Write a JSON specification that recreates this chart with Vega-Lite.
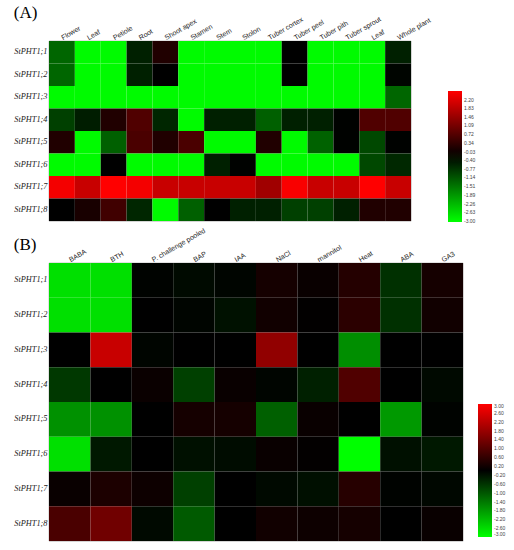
{
  "$schema": "https://vega.github.io/schema/vega-lite/v6.json",
  "padding": {"left": 13, "top": 3, "right": 0, "bottom": 0},
  "background": "white",
  "config": {
    "view": {"stroke": "#888", "strokeWidth": 0.6},
    "axis": {"domain": false, "ticks": false, "title": null, "labelColor": "#222"},
    "font": "Liberation Sans"
  },
  "resolve": {"scale": {"color": "independent"}},
  "spacing": 0,
  "datasets": {
    "tissue": [
      {"g": "StPHT1;1", "t": "Flower", "v": -1.34}, {"g": "StPHT1;1", "t": "Leaf", "v": -3}, {"g": "StPHT1;1", "t": "Petiole", "v": -3}, {"g": "StPHT1;1", "t": "Root", "v": -0.56}, {"g": "StPHT1;1", "t": "Shoot apex", "v": 0.15}, {"g": "StPHT1;1", "t": "Stamen", "v": -3}, {"g": "StPHT1;1", "t": "Stem", "v": -3}, {"g": "StPHT1;1", "t": "Stolon", "v": -3}, {"g": "StPHT1;1", "t": "Tuber cortex", "v": -3}, {"g": "StPHT1;1", "t": "Tuber peel", "v": -0.2}, {"g": "StPHT1;1", "t": "Tuber pith", "v": -3}, {"g": "StPHT1;1", "t": "Tuber sprout", "v": -3}, {"g": "StPHT1;1", "t": "Leaf ", "v": -3}, {"g": "StPHT1;1", "t": "Whole plant", "v": -0.56},
      {"g": "StPHT1;2", "t": "Flower", "v": -1.34}, {"g": "StPHT1;2", "t": "Leaf", "v": -3}, {"g": "StPHT1;2", "t": "Petiole", "v": -3}, {"g": "StPHT1;2", "t": "Root", "v": -0.56}, {"g": "StPHT1;2", "t": "Shoot apex", "v": -0.2}, {"g": "StPHT1;2", "t": "Stamen", "v": -3}, {"g": "StPHT1;2", "t": "Stem", "v": -3}, {"g": "StPHT1;2", "t": "Stolon", "v": -3}, {"g": "StPHT1;2", "t": "Tuber cortex", "v": -3}, {"g": "StPHT1;2", "t": "Tuber peel", "v": -0.2}, {"g": "StPHT1;2", "t": "Tuber pith", "v": -3}, {"g": "StPHT1;2", "t": "Tuber sprout", "v": -3}, {"g": "StPHT1;2", "t": "Leaf ", "v": -3}, {"g": "StPHT1;2", "t": "Whole plant", "v": -0.26},
      {"g": "StPHT1;3", "t": "Flower", "v": -3}, {"g": "StPHT1;3", "t": "Leaf", "v": -3}, {"g": "StPHT1;3", "t": "Petiole", "v": -3}, {"g": "StPHT1;3", "t": "Root", "v": -3}, {"g": "StPHT1;3", "t": "Shoot apex", "v": -3}, {"g": "StPHT1;3", "t": "Stamen", "v": -3}, {"g": "StPHT1;3", "t": "Stem", "v": -3}, {"g": "StPHT1;3", "t": "Stolon", "v": -3}, {"g": "StPHT1;3", "t": "Tuber cortex", "v": -3}, {"g": "StPHT1;3", "t": "Tuber peel", "v": -3}, {"g": "StPHT1;3", "t": "Tuber pith", "v": -3}, {"g": "StPHT1;3", "t": "Tuber sprout", "v": -3}, {"g": "StPHT1;3", "t": "Leaf ", "v": -3}, {"g": "StPHT1;3", "t": "Whole plant", "v": -1.34},
      {"g": "StPHT1;4", "t": "Flower", "v": -0.92}, {"g": "StPHT1;4", "t": "Leaf", "v": -0.52}, {"g": "StPHT1;4", "t": "Petiole", "v": 0.15}, {"g": "StPHT1;4", "t": "Root", "v": 0.67}, {"g": "StPHT1;4", "t": "Shoot apex", "v": -0.62}, {"g": "StPHT1;4", "t": "Stamen", "v": -3}, {"g": "StPHT1;4", "t": "Stem", "v": -0.56}, {"g": "StPHT1;4", "t": "Stolon", "v": -0.56}, {"g": "StPHT1;4", "t": "Tuber cortex", "v": -1.27}, {"g": "StPHT1;4", "t": "Tuber peel", "v": -0.56}, {"g": "StPHT1;4", "t": "Tuber pith", "v": -0.56}, {"g": "StPHT1;4", "t": "Tuber sprout", "v": -0.22}, {"g": "StPHT1;4", "t": "Leaf ", "v": 0.67}, {"g": "StPHT1;4", "t": "Whole plant", "v": 0.67},
      {"g": "StPHT1;5", "t": "Flower", "v": 0.15}, {"g": "StPHT1;5", "t": "Leaf", "v": -3}, {"g": "StPHT1;5", "t": "Petiole", "v": -1.27}, {"g": "StPHT1;5", "t": "Root", "v": 0.6}, {"g": "StPHT1;5", "t": "Shoot apex", "v": 0.15}, {"g": "StPHT1;5", "t": "Stamen", "v": 0.6}, {"g": "StPHT1;5", "t": "Stem", "v": -3}, {"g": "StPHT1;5", "t": "Stolon", "v": -3}, {"g": "StPHT1;5", "t": "Tuber cortex", "v": 0.15}, {"g": "StPHT1;5", "t": "Tuber peel", "v": -3}, {"g": "StPHT1;5", "t": "Tuber pith", "v": -1.3}, {"g": "StPHT1;5", "t": "Tuber sprout", "v": -0.22}, {"g": "StPHT1;5", "t": "Leaf ", "v": -1.0}, {"g": "StPHT1;5", "t": "Whole plant", "v": -0.22},
      {"g": "StPHT1;6", "t": "Flower", "v": -3}, {"g": "StPHT1;6", "t": "Leaf", "v": -3}, {"g": "StPHT1;6", "t": "Petiole", "v": -0.2}, {"g": "StPHT1;6", "t": "Root", "v": -3}, {"g": "StPHT1;6", "t": "Shoot apex", "v": -3}, {"g": "StPHT1;6", "t": "Stamen", "v": -3}, {"g": "StPHT1;6", "t": "Stem", "v": -0.56}, {"g": "StPHT1;6", "t": "Stolon", "v": -0.22}, {"g": "StPHT1;6", "t": "Tuber cortex", "v": -3}, {"g": "StPHT1;6", "t": "Tuber peel", "v": -3}, {"g": "StPHT1;6", "t": "Tuber pith", "v": -3}, {"g": "StPHT1;6", "t": "Tuber sprout", "v": -3}, {"g": "StPHT1;6", "t": "Leaf ", "v": -1.0}, {"g": "StPHT1;6", "t": "Whole plant", "v": -0.65},
      {"g": "StPHT1;7", "t": "Flower", "v": 2.45}, {"g": "StPHT1;7", "t": "Leaf", "v": 1.97}, {"g": "StPHT1;7", "t": "Petiole", "v": 2.57}, {"g": "StPHT1;7", "t": "Root", "v": 2.45}, {"g": "StPHT1;7", "t": "Shoot apex", "v": 1.97}, {"g": "StPHT1;7", "t": "Stamen", "v": 1.97}, {"g": "StPHT1;7", "t": "Stem", "v": 1.97}, {"g": "StPHT1;7", "t": "Stolon", "v": 1.97}, {"g": "StPHT1;7", "t": "Tuber cortex", "v": 1.54}, {"g": "StPHT1;7", "t": "Tuber peel", "v": 2.5}, {"g": "StPHT1;7", "t": "Tuber pith", "v": 1.97}, {"g": "StPHT1;7", "t": "Tuber sprout", "v": 1.97}, {"g": "StPHT1;7", "t": "Leaf ", "v": 2.57}, {"g": "StPHT1;7", "t": "Whole plant", "v": 1.97},
      {"g": "StPHT1;8", "t": "Flower", "v": -0.2}, {"g": "StPHT1;8", "t": "Leaf", "v": 0.06}, {"g": "StPHT1;8", "t": "Petiole", "v": 0.5}, {"g": "StPHT1;8", "t": "Root", "v": -0.62}, {"g": "StPHT1;8", "t": "Shoot apex", "v": -3}, {"g": "StPHT1;8", "t": "Stamen", "v": -1.27}, {"g": "StPHT1;8", "t": "Stem", "v": -0.2}, {"g": "StPHT1;8", "t": "Stolon", "v": -0.56}, {"g": "StPHT1;8", "t": "Tuber cortex", "v": -0.56}, {"g": "StPHT1;8", "t": "Tuber peel", "v": -0.92}, {"g": "StPHT1;8", "t": "Tuber pith", "v": -0.92}, {"g": "StPHT1;8", "t": "Tuber sprout", "v": -0.56}, {"g": "StPHT1;8", "t": "Leaf ", "v": 0.15}, {"g": "StPHT1;8", "t": "Whole plant", "v": 0.15}
    ],
    "treatment": [
      {"g": "StPHT1;1", "t": "BABA", "v": -2.64}, {"g": "StPHT1;1", "t": "BTH", "v": -2.64}, {"g": "StPHT1;1", "t": "P. challenge pooled", "v": -0.03}, {"g": "StPHT1;1", "t": "BAP", "v": -0.12}, {"g": "StPHT1;1", "t": "IAA", "v": -0.06}, {"g": "StPHT1;1", "t": "NaCl", "v": 0.25}, {"g": "StPHT1;1", "t": "mannitol", "v": 0.1}, {"g": "StPHT1;1", "t": "Heat", "v": 0.42}, {"g": "StPHT1;1", "t": "ABA", "v": -0.56}, {"g": "StPHT1;1", "t": "GA3", "v": 0.25},
      {"g": "StPHT1;2", "t": "BABA", "v": -2.64}, {"g": "StPHT1;2", "t": "BTH", "v": -2.64}, {"g": "StPHT1;2", "t": "P. challenge pooled", "v": 0.0}, {"g": "StPHT1;2", "t": "BAP", "v": -0.06}, {"g": "StPHT1;2", "t": "IAA", "v": -0.2}, {"g": "StPHT1;2", "t": "NaCl", "v": 0.2}, {"g": "StPHT1;2", "t": "mannitol", "v": 0.02}, {"g": "StPHT1;2", "t": "Heat", "v": 0.5}, {"g": "StPHT1;2", "t": "ABA", "v": -0.56}, {"g": "StPHT1;2", "t": "GA3", "v": 0.2},
      {"g": "StPHT1;3", "t": "BABA", "v": 0.0}, {"g": "StPHT1;3", "t": "BTH", "v": 2.35}, {"g": "StPHT1;3", "t": "P. challenge pooled", "v": -0.06}, {"g": "StPHT1;3", "t": "BAP", "v": 0.0}, {"g": "StPHT1;3", "t": "IAA", "v": 0.0}, {"g": "StPHT1;3", "t": "NaCl", "v": 1.7}, {"g": "StPHT1;3", "t": "mannitol", "v": 0.0}, {"g": "StPHT1;3", "t": "Heat", "v": -1.67}, {"g": "StPHT1;3", "t": "ABA", "v": 0.0}, {"g": "StPHT1;3", "t": "GA3", "v": 0.0},
      {"g": "StPHT1;4", "t": "BABA", "v": -0.66}, {"g": "StPHT1;4", "t": "BTH", "v": 0.0}, {"g": "StPHT1;4", "t": "P. challenge pooled", "v": 0.12}, {"g": "StPHT1;4", "t": "BAP", "v": -0.75}, {"g": "StPHT1;4", "t": "IAA", "v": 0.1}, {"g": "StPHT1;4", "t": "NaCl", "v": -0.06}, {"g": "StPHT1;4", "t": "mannitol", "v": -0.38}, {"g": "StPHT1;4", "t": "Heat", "v": 0.94}, {"g": "StPHT1;4", "t": "ABA", "v": 0.0}, {"g": "StPHT1;4", "t": "GA3", "v": -0.1},
      {"g": "StPHT1;5", "t": "BABA", "v": -1.7}, {"g": "StPHT1;5", "t": "BTH", "v": -1.7}, {"g": "StPHT1;5", "t": "P. challenge pooled", "v": 0.0}, {"g": "StPHT1;5", "t": "BAP", "v": 0.25}, {"g": "StPHT1;5", "t": "IAA", "v": 0.25}, {"g": "StPHT1;5", "t": "NaCl", "v": -1.13}, {"g": "StPHT1;5", "t": "mannitol", "v": 0.1}, {"g": "StPHT1;5", "t": "Heat", "v": 0.0}, {"g": "StPHT1;5", "t": "ABA", "v": -1.8}, {"g": "StPHT1;5", "t": "GA3", "v": -0.03},
      {"g": "StPHT1;6", "t": "BABA", "v": -2.64}, {"g": "StPHT1;6", "t": "BTH", "v": -0.28}, {"g": "StPHT1;6", "t": "P. challenge pooled", "v": 0.0}, {"g": "StPHT1;6", "t": "BAP", "v": -0.19}, {"g": "StPHT1;6", "t": "IAA", "v": -0.14}, {"g": "StPHT1;6", "t": "NaCl", "v": 0.1}, {"g": "StPHT1;6", "t": "mannitol", "v": 0.03}, {"g": "StPHT1;6", "t": "Heat", "v": -3.0}, {"g": "StPHT1;6", "t": "ABA", "v": -0.19}, {"g": "StPHT1;6", "t": "GA3", "v": -0.28},
      {"g": "StPHT1;7", "t": "BABA", "v": 0.1}, {"g": "StPHT1;7", "t": "BTH", "v": 0.33}, {"g": "StPHT1;7", "t": "P. challenge pooled", "v": 0.15}, {"g": "StPHT1;7", "t": "BAP", "v": -0.75}, {"g": "StPHT1;7", "t": "IAA", "v": 0.0}, {"g": "StPHT1;7", "t": "NaCl", "v": -0.1}, {"g": "StPHT1;7", "t": "mannitol", "v": -0.18}, {"g": "StPHT1;7", "t": "Heat", "v": 0.45}, {"g": "StPHT1;7", "t": "ABA", "v": -0.03}, {"g": "StPHT1;7", "t": "GA3", "v": -0.08},
      {"g": "StPHT1;8", "t": "BABA", "v": 0.87}, {"g": "StPHT1;8", "t": "BTH", "v": 1.32}, {"g": "StPHT1;8", "t": "P. challenge pooled", "v": -0.1}, {"g": "StPHT1;8", "t": "BAP", "v": -1.06}, {"g": "StPHT1;8", "t": "IAA", "v": 0.0}, {"g": "StPHT1;8", "t": "NaCl", "v": 0.2}, {"g": "StPHT1;8", "t": "mannitol", "v": 0.15}, {"g": "StPHT1;8", "t": "Heat", "v": 0.25}, {"g": "StPHT1;8", "t": "ABA", "v": 0.0}, {"g": "StPHT1;8", "t": "GA3", "v": 0.1}
    ]
  },
  "vconcat": [
    {
      "title": {"text": "(A)", "anchor": "start", "frame": "bounds", "font": "Liberation Serif", "fontSize": 17, "fontWeight": "normal", "color": "#000", "offset": -7},
      "width": 362,
      "height": 180,
      "data": {"name": "tissue"},
      "mark": {"type": "rect"},
      "encoding": {
        "x": {"field": "t", "type": "nominal", "sort": ["Flower", "Leaf", "Petiole", "Root", "Shoot apex", "Stamen", "Stem", "Stolon", "Tuber cortex", "Tuber peel", "Tuber pith", "Tuber sprout", "Leaf ", "Whole plant"], "axis": {"orient": "top", "labelAngle": -30, "labelAlign": "left", "labelBaseline": "middle", "labelFontSize": 7, "labelPadding": 3}},
        "y": {"field": "g", "type": "nominal", "axis": {"labelFont": "Liberation Serif", "labelFontStyle": "italic", "labelFontSize": 8.3, "labelPadding": 2}},
        "color": {"field": "v", "type": "quantitative", "scale": {"domain": [-3.05, -0.2, 2.57], "range": ["#00ff00", "#000000", "#ff0000"], "interpolate": "rgb"},
          "legend": {"orient": "none", "legendX": 399, "legendY": 50, "title": null, "direction": "vertical", "gradientLength": 131, "gradientThickness": 14, "labelFontSize": 5, "labelOverlap": false, "labelColor": "#444", "values": [2.2, 1.83, 1.46, 1.09, 0.72, 0.34, -0.03, -0.4, -0.77, -1.14, -1.51, -1.89, -2.26, -2.63, -3.0], "labelExpr": "replace(format(datum.value, '.2f'), '\u2212', '-')"}}
      }
    },
    {
      "title": {"text": "(B)", "anchor": "start", "frame": "bounds", "font": "Liberation Serif", "fontSize": 17, "fontWeight": "normal", "color": "#000", "offset": -28},
      "width": 414,
      "height": 278,
      "data": {"name": "treatment"},
      "mark": {"type": "rect"},
      "encoding": {
        "x": {"field": "t", "type": "nominal", "sort": ["BABA", "BTH", "P. challenge pooled", "BAP", "IAA", "NaCl", "mannitol", "Heat", "ABA", "GA3"], "axis": {"orient": "top", "labelAngle": -30, "labelAlign": "left", "labelBaseline": "middle", "labelFontSize": 7, "labelPadding": 3}},
        "y": {"field": "g", "type": "nominal", "axis": {"labelFont": "Liberation Serif", "labelFontStyle": "italic", "labelFontSize": 8.3, "labelPadding": 2}},
        "color": {"field": "v", "type": "quantitative", "scale": {"domain": [-3, 0, 3], "range": ["#00ff00", "#000000", "#ff0000"], "interpolate": "rgb"},
          "legend": {"orient": "none", "legendX": 429, "legendY": 141, "title": null, "direction": "vertical", "gradientLength": 133, "gradientThickness": 14, "labelFontSize": 5, "labelOverlap": false, "labelColor": "#444", "values": [3, 2.6, 2.2, 1.8, 1.4, 1.0, 0.6, 0.2, -0.2, -0.6, -1.0, -1.4, -1.8, -2.2, -2.6, -3.0], "labelExpr": "replace(format(datum.value, '.2f'), '\u2212', '-')"}}
      }
    }
  ]
}
